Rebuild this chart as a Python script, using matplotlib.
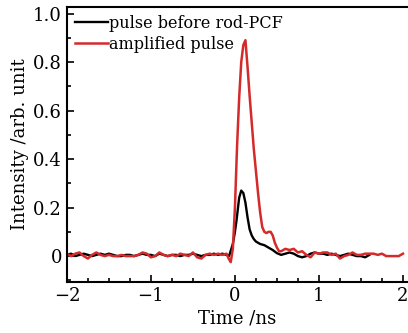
import matplotlib
matplotlib.use('Agg')
import matplotlib.pyplot as plt
from matplotlib.ticker import MultipleLocator, FuncFormatter

# amplified pulse (red)
t_amp = [-2.0, -1.95, -1.9, -1.85, -1.8, -1.75, -1.7, -1.65, -1.6, -1.55, -1.5, -1.45, -1.4,
         -1.35, -1.3, -1.25, -1.2, -1.15, -1.1, -1.05, -1.0, -0.95, -0.9, -0.85, -0.8, -0.75,
         -0.7, -0.65, -0.6, -0.55, -0.5, -0.45, -0.4, -0.35, -0.3, -0.25, -0.2, -0.15, -0.1,
         -0.075, -0.05, -0.025, 0.0, 0.025, 0.05, 0.075, 0.1, 0.125, 0.15, 0.175, 0.2, 0.225,
         0.25, 0.275, 0.3, 0.325, 0.35, 0.375, 0.4, 0.425, 0.45, 0.475, 0.5, 0.525, 0.55, 0.6,
         0.65, 0.7, 0.75, 0.8, 0.85, 0.9, 0.95, 1.0, 1.05, 1.1, 1.15, 1.2, 1.25, 1.3, 1.35,
         1.4, 1.45, 1.5, 1.55, 1.6, 1.65, 1.7, 1.75, 1.8, 1.85, 1.9, 1.95, 2.0]
i_amp = [0.01, 0.0, 0.01, 0.015, 0.0, -0.01, 0.005, 0.015, 0.005, 0.0, 0.005, 0.0, 0.0,
         0.005, 0.0, 0.0, 0.0, 0.005, 0.015, 0.01, -0.005, 0.0, 0.015, 0.005, 0.0, 0.005,
         0.0, 0.01, 0.005, 0.0, 0.015, -0.005, -0.01, 0.005, 0.01, 0.005, 0.01, 0.005, 0.01,
         -0.01, -0.025, 0.03, 0.2, 0.45, 0.65, 0.8, 0.87, 0.89, 0.78, 0.66, 0.55, 0.44,
         0.35, 0.26, 0.18, 0.12, 0.1, 0.095, 0.1, 0.1, 0.085, 0.055, 0.035, 0.02, 0.02, 0.03,
         0.025, 0.03, 0.015, 0.02, 0.005, -0.005, 0.015, 0.01, 0.015, 0.015, 0.005, 0.01, -0.01,
         0.0, 0.005, 0.015, 0.005, 0.005, 0.01, 0.01, 0.01, 0.005, 0.01, 0.0, 0.0, 0.0, 0.0, 0.01]

# pulse before rod-PCF (black)
t_in = [-2.0, -1.95, -1.9, -1.85, -1.8, -1.75, -1.7, -1.65, -1.6, -1.55, -1.5, -1.45, -1.4,
        -1.35, -1.3, -1.25, -1.2, -1.15, -1.1, -1.05, -1.0, -0.95, -0.9, -0.85, -0.8, -0.75,
        -0.7, -0.65, -0.6, -0.55, -0.5, -0.45, -0.4, -0.35, -0.3, -0.25, -0.2, -0.15, -0.1,
        -0.07, -0.025, 0.0, 0.02, 0.05, 0.075, 0.1, 0.125, 0.15, 0.175, 0.2, 0.225, 0.25, 0.3,
        0.35, 0.4, 0.45, 0.5, 0.55, 0.6, 0.65, 0.7, 0.75, 0.8, 0.85, 0.9, 0.95, 1.0, 1.05, 1.1,
        1.15, 1.2, 1.25, 1.3, 1.35, 1.4, 1.45, 1.5, 1.55, 1.6]
i_in = [0.005, 0.01, 0.0, 0.005, 0.01, 0.005, 0.0, 0.005, 0.01, 0.005, 0.01, 0.005, 0.0,
        0.0, 0.005, 0.005, 0.0, 0.005, 0.01, 0.005, 0.005, 0.0, 0.01, 0.005, 0.0, 0.005,
        0.005, 0.0, 0.005, 0.005, 0.01, 0.005, 0.0, 0.005, 0.005, 0.01, 0.005, 0.01, 0.005,
        0.0, 0.05, 0.1, 0.15, 0.24, 0.27, 0.26, 0.22, 0.16, 0.11, 0.085, 0.07, 0.06, 0.05,
        0.045, 0.035, 0.025, 0.012, 0.005, 0.01, 0.015, 0.01, 0.0, -0.005, 0.0, 0.01, 0.015,
        0.01, 0.01, 0.005, 0.01, 0.005, 0.0, 0.005, 0.01, 0.005, 0.0, 0.0, -0.005, 0.005]

plt.rcParams['font.family'] = 'DejaVu Serif'
plt.rcParams['mathtext.fontset'] = 'dejavuserif'

fig = plt.figure(figsize=(4.08, 3.33), dpi=100)
ax = fig.add_axes([0.164, 0.153, 0.836, 0.826])

ax.plot(t_in, i_in, color='black', linewidth=1.7, label='pulse before rod-PCF')
ax.plot(t_amp, i_amp, color='#d42a2a', linewidth=1.8, label='amplified pulse')

ax.set_xlim(-2, 2.06)
ax.set_ylim(-0.107, 1.027)
ax.xaxis.set_major_locator(MultipleLocator(1))
ax.xaxis.set_minor_locator(MultipleLocator(0.25))
ax.yaxis.set_major_locator(MultipleLocator(0.2))
ax.yaxis.set_minor_locator(MultipleLocator(0.1))
ax.yaxis.set_major_formatter(FuncFormatter(lambda v, p: '0' if abs(v) < 1e-9 else '%.1f' % v))
ax.tick_params(which='both', direction='in', labelsize=13, width=1.2)
ax.tick_params(which='major', length=5)
ax.tick_params(which='minor', length=3)
ax.spines['right'].set_visible(False)
for s in ['left', 'top', 'bottom']:
    ax.spines[s].set_linewidth(1.5)

ax.set_xlabel('Time /ns', fontsize=13, labelpad=3)
ax.set_ylabel('Intensity /arb. unit', fontsize=13, labelpad=3)

ax.legend(loc='upper left', frameon=False, fontsize=11.5, handlelength=2.1,
          handletextpad=0.05, borderaxespad=0.2, borderpad=0.3, labelspacing=0.25)

fig.savefig('out.png', dpi=100)
